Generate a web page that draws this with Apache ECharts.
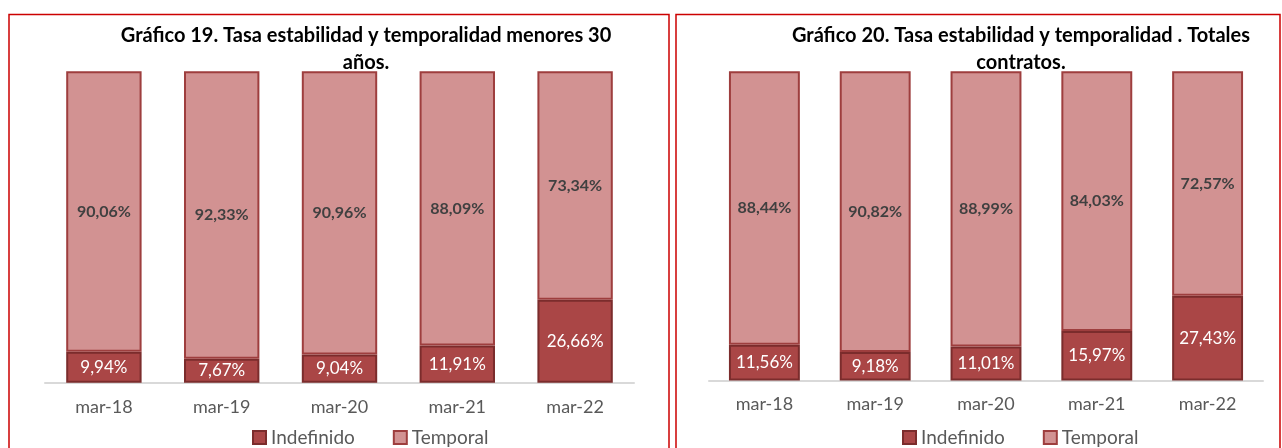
<!DOCTYPE html>
<html>
<head>
<meta charset="utf-8">
<script src="https://cdn.jsdelivr.net/npm/echarts@6/dist/echarts.min.js"></script>
<style>html,body{margin:0;padding:0;background:#fff}#c{width:1282px;height:448px}</style>
</head>
<body>
<div id="c"></div>
<script>
const categories = ['mar-18', 'mar-19', 'mar-20', 'mar-21', 'mar-22'];
const indefinido19 = [9.94, 7.67, 9.04, 11.91, 26.66];
const temporal19 = [90.06, 92.33, 90.96, 88.09, 73.34];
const indefinido20 = [11.56, 9.18, 11.01, 15.97, 27.43];
const temporal20 = [88.44, 90.82, 88.99, 84.03, 72.57];
const title19 = 'Gráfico 19. Tasa estabilidad y temporalidad menores 30\naños.';
const title20 = 'Gráfico 20. Tasa estabilidad y temporalidad . Totales\ncontratos.';

const FONT = 'Lato';
const fmt = p => p.value.toFixed(2).replace('.', ',') + '%';
const indefStyle = { color: '#AA4646', borderColor: '#7B2C2C', borderWidth: 2 };
const tempStyle = { color: '#D29292', borderColor: '#9E3E3E', borderWidth: 2 };

function xAxis(gi) {
  return {
    type: 'category', gridIndex: gi, data: categories,
    axisLine: { lineStyle: { color: '#D9D9D9', width: 2 } },
    axisTick: { show: false },
    axisLabel: { color: '#595959', fontSize: 18, fontFamily: FONT, margin: 15 }
  };
}
function yAxis(gi) {
  return { type: 'value', gridIndex: gi, min: 0, max: 100, show: false, splitLine: { show: false } };
}
function series(name, data, gi, style, isTemp) {
  return {
    name, type: 'bar', stack: 's' + gi, xAxisIndex: gi, yAxisIndex: gi, data,
    barCategoryGap: '36%', itemStyle: style,
    label: isTemp
      ? { show: true, position: 'inside', formatter: fmt, color: '#404040', fontWeight: 'bold', fontSize: 16, fontFamily: FONT }
      : { show: true, position: 'inside', formatter: fmt, color: '#FFFFFF', fontSize: 17, fontFamily: FONT },
    emphasis: { disabled: true }
  };
}
function legend(left) {
  return {
    left, top: 423, itemWidth: 13, itemHeight: 13, itemGap: 38, icon: 'rect',
    data: ['Indefinido', 'Temporal'],
    textStyle: { color: '#595959', fontSize: 19, fontFamily: FONT }
  };
}

const chart = echarts.init(document.getElementById('c'), null, { renderer: 'canvas' });
chart.setOption({
  animation: false,
  backgroundColor: '#FFFFFF',
  title: [
    { text: title19, left: 361, top: 17, textAlign: 'center',
      textStyle: { fontFamily: FONT, fontWeight: 'bold', fontSize: 20, color: '#000', lineHeight: 27, align: 'center' } },
    { text: title20, left: 1016, top: 17, textAlign: 'center',
      textStyle: { fontFamily: FONT, fontWeight: 'bold', fontSize: 20, color: '#000', lineHeight: 27, align: 'center' } }
  ],
  graphic: [
    { type: 'rect', shape: { x: 9, y: 14.5, width: 660, height: 440 }, style: { fill: 'none', stroke: '#CC0000', lineWidth: 1.5 }, silent: true },
    { type: 'rect', shape: { x: 676, y: 14.5, width: 604, height: 440 }, style: { fill: 'none', stroke: '#CC0000', lineWidth: 1.5 }, silent: true }
  ],
  legend: [legend(247), legend(897)],
  grid: [
    { left: 45, right: 648, top: 71.3, bottom: 65.3 },
    { left: 709, right: 19, top: 71.3, bottom: 67.5 }
  ],
  xAxis: [xAxis(0), xAxis(1)],
  yAxis: [yAxis(0), yAxis(1)],
  series: [
    series('Indefinido', indefinido19, 0, indefStyle, false),
    series('Temporal', temporal19, 0, tempStyle, true),
    series('Indefinido', indefinido20, 1, indefStyle, false),
    series('Temporal', temporal20, 1, tempStyle, true)
  ]
});
</script>
</body>
</html>
